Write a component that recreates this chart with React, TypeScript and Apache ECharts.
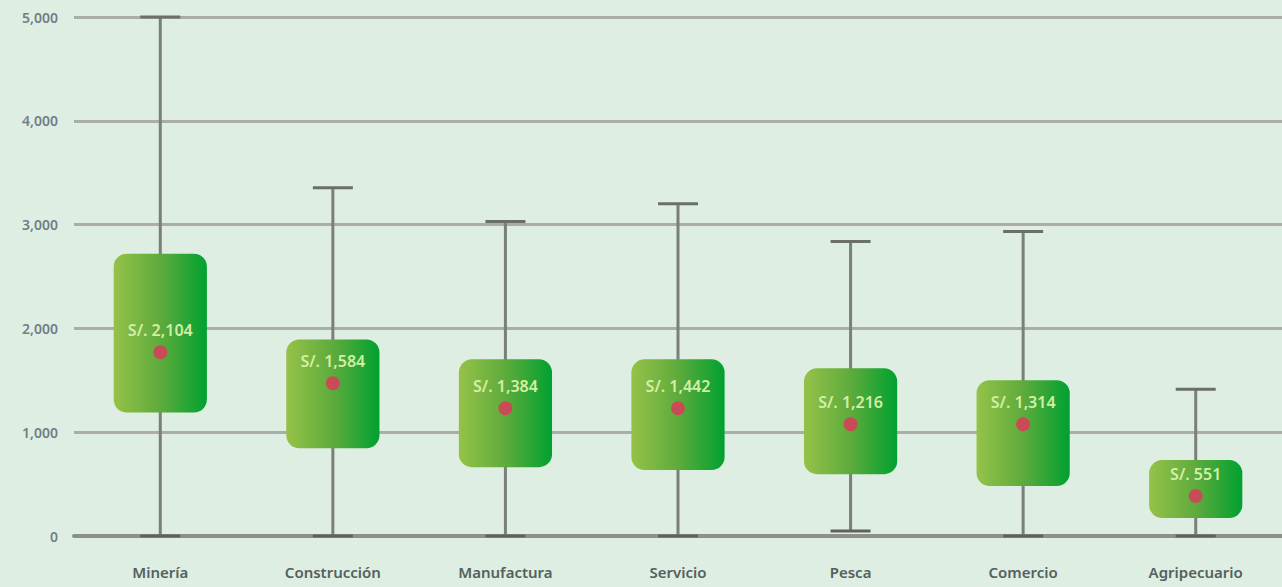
import React, { useEffect, useRef } from "react";
import * as echarts from "echarts";

const categories = ["Minería", "Construcción", "Manufactura", "Servicio", "Pesca", "Comercio", "Agripecuario"];
const minValues = [0, 0, 0, 0, 48, 0, 0];
const q1Values = [1190, 846, 663, 635, 596, 481, 173];
const q3Values = [2720, 1894, 1702, 1702, 1615, 1500, 731];
const maxValues = [5000, 3356, 3029, 3202, 2837, 2933, 1413];
const dotValues = [1770, 1471, 1231, 1231, 1077, 1077, 385];
const boxLabels = ["S/. 2,104", "S/. 1,584", "S/. 1,384", "S/. 1,442", "S/. 1,216", "S/. 1,314", "S/. 551"];
const yTicks = [0, 1000, 2000, 3000, 4000, 5000];

export default function App() {
  const ref = useRef<HTMLDivElement>(null);
  useEffect(() => {
    if (!ref.current) return;
    const chart = echarts.init(ref.current, null, { renderer: "svg" });
    const data = categories.map((_, i) => [i, minValues[i], q1Values[i], q3Values[i], maxValues[i], dotValues[i]]);
    const whiskerColor = "#7a7f7a";
    const capColor = "#6b6f6b";
    chart.setOption({
      animation: false,
      backgroundColor: "#deeee2",
      grid: { left: 74, right: -2, top: 17, bottom: 51 },
      xAxis: {
        type: "category",
        data: categories,
        axisLine: { show: true, lineStyle: { color: "#8c8f8c", width: 4 } },
        axisTick: { show: false },
        axisLabel: { color: "#55605f", fontSize: 15, fontWeight: 600, fontFamily: "Noto Sans", margin: 28 },
        splitLine: { show: false },
      },
      yAxis: {
        type: "value",
        min: yTicks[0],
        max: yTicks[yTicks.length - 1],
        interval: 1000,
        axisLine: { show: false },
        axisTick: { show: false },
        axisLabel: {
          color: "#727d88",
          fontSize: 14,
          fontWeight: 600,
          fontFamily: "Noto Sans",
          margin: 16,
          formatter: (v: number) => v.toLocaleString("en-US"),
        },
        splitLine: { show: true, lineStyle: { color: "#aaadaa", width: 3 } },
      },
      series: [
        {
          type: "custom",
          data,
          encode: { x: 0, y: [1, 2, 3, 4, 5] },
          renderItem: (params: any, api: any) => {
            const idx = api.value(0);
            const cx = api.coord([idx, 0])[0];
            const yMin = api.coord([idx, api.value(1)])[1];
            const yQ1 = api.coord([idx, api.value(2)])[1];
            const yQ3 = api.coord([idx, api.value(3)])[1];
            const yMax = api.coord([idx, api.value(4)])[1];
            const yDot = api.coord([idx, api.value(5)])[1];
            const bw = api.size([1, 0])[0] * 0.54;
            const capW = 40;
            return {
              type: "group",
              children: [
                {
                  type: "line",
                  shape: { x1: cx, y1: yMin, x2: cx, y2: yMax },
                  style: { stroke: whiskerColor, lineWidth: 3 },
                },
                {
                  type: "line",
                  shape: { x1: cx - capW / 2, y1: yMax, x2: cx + capW / 2, y2: yMax },
                  style: { stroke: capColor, lineWidth: 3 },
                },
                {
                  type: "line",
                  shape: { x1: cx - capW / 2, y1: yMin, x2: cx + capW / 2, y2: yMin },
                  style: { stroke: "#5f625f", lineWidth: 3 },
                },
                {
                  type: "rect",
                  shape: { x: cx - bw / 2, y: yQ3, width: bw, height: yQ1 - yQ3, r: 13 },
                  style: {
                    fill: new echarts.graphic.LinearGradient(0, 0, 1, 0, [
                      { offset: 0, color: "#95c249" },
                      { offset: 0.5, color: "#5eab3c" },
                      { offset: 1, color: "#00a130" },
                    ]),
                  },
                },
                {
                  type: "circle",
                  shape: { cx, cy: yDot, r: 7 },
                  style: { fill: "#c94b56" },
                },
                {
                  type: "text",
                  x: cx,
                  y: yDot - 22,
                  style: {
                    text: boxLabels[params.dataIndex],
                    fill: "#d3efa4",
                    fontSize: 16,
                    fontWeight: 600,
                    fontFamily: "Noto Sans",
                    align: "center",
                    verticalAlign: "middle",
                  },
                },
              ],
            };
          },
        },
      ],
    });
    return () => chart.dispose();
  }, []);
  return <div ref={ref} style={{ position: "fixed", left: 0, top: 0, width: 1282, height: 587 }} />;
}
